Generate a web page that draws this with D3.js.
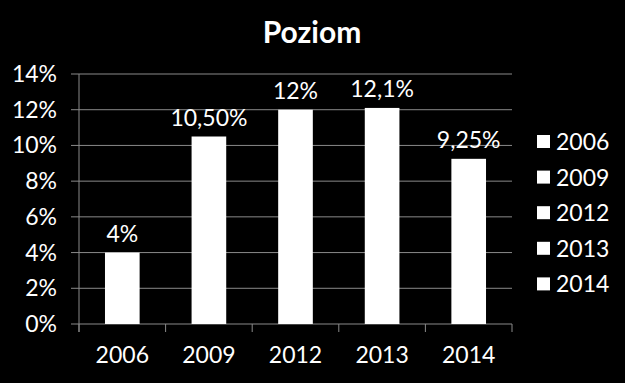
<html>
<head>
  <meta charset="utf-8">
  <title>Poziom</title>
  <script src="https://cdnjs.cloudflare.com/ajax/libs/d3/7.8.5/d3.min.js"></script>
  <style>
    body { margin: 0; background: #000; }
    text { font-family: Lato, "Open Sans", sans-serif; fill: #fff; }
  </style>
</head>
<body>
  <svg></svg>
  <script>
var years = ["2006", "2009", "2012", "2013", "2014"];
var values = [4, 10.5, 12, 12.1, 9.25];
var valueLabels = ["4%", "10,50%", "12%", "12,1%", "9,25%"];
var yTicks = [0, 2, 4, 6, 8, 10, 12, 14];

var w = 625, h = 383;
var svg = d3.select("svg").attr("width", w).attr("height", h);
svg.append("rect").attr("width", w).attr("height", h).attr("fill", "#000");

var margin = {left: 79, right: 113, top: 74, bottom: 59};

var x = d3.scaleBand()
  .domain(years)
  .range([margin.left, w - margin.right])
  .paddingInner(0.6)
  .paddingOuter(0.3);

var y = d3.scaleLinear()
  .domain([0, 14])
  .range([h - margin.bottom, margin.top]);

// gridlines
svg.selectAll("line.grid")
  .data(yTicks)
  .enter()
  .append("line")
  .attr("class", "grid")
  .attr("x1", margin.left - 8)
  .attr("x2", w - margin.right)
  .attr("y1", function(d) { return y(d); })
  .attr("y2", function(d) { return y(d); })
  .attr("stroke", "#8a8a8a")
  .attr("stroke-width", 1);

// y axis line
svg.append("line")
  .attr("x1", margin.left).attr("x2", margin.left)
  .attr("y1", margin.top).attr("y2", h - margin.bottom + 8)
  .attr("stroke", "#8a8a8a");

// x axis category ticks
var edges = d3.range(years.length + 1).map(function(i) {
  return margin.left + i * (w - margin.right - margin.left) / years.length;
});
svg.selectAll("line.xtick")
  .data(edges)
  .enter()
  .append("line")
  .attr("class", "xtick")
  .attr("x1", function(d) { return d; })
  .attr("x2", function(d) { return d; })
  .attr("y1", y(0))
  .attr("y2", y(0) + 8)
  .attr("stroke", "#8a8a8a");

// y labels
svg.selectAll("text.ylab")
  .data(yTicks)
  .enter()
  .append("text")
  .attr("class", "ylab")
  .attr("x", 57)
  .attr("y", function(d) { return y(d) + 8; })
  .attr("text-anchor", "end")
  .attr("font-size", 23)
  .text(function(d) { return d + "%"; });

// bars
svg.selectAll("rect.bar")
  .data(values)
  .enter()
  .append("rect")
  .attr("class", "bar")
  .attr("x", function(d, i) { return x(years[i]); })
  .attr("y", function(d) { return y(d); })
  .attr("width", x.bandwidth())
  .attr("height", function(d) { return y(0) - y(d); })
  .attr("fill", "#fff");

// value labels
svg.selectAll("text.val")
  .data(values)
  .enter()
  .append("text")
  .attr("class", "val")
  .attr("x", function(d, i) { return x(years[i]) + x.bandwidth() / 2; })
  .attr("y", function(d) { return y(d) - 11; })
  .attr("text-anchor", "middle")
  .attr("font-size", 23)
  .text(function(d, i) { return valueLabels[i]; });

// x labels
svg.selectAll("text.xlab")
  .data(years)
  .enter()
  .append("text")
  .attr("class", "xlab")
  .attr("x", function(d) { return x(d) + x.bandwidth() / 2; })
  .attr("y", 363)
  .attr("text-anchor", "middle")
  .attr("font-size", 23)
  .text(function(d) { return d; });

// title
svg.append("text")
  .attr("x", 312)
  .attr("y", 43)
  .attr("text-anchor", "middle")
  .attr("font-size", 30)
  .attr("font-weight", "bold")
  .text("Poziom");

// legend
var leg = svg.selectAll("g.leg")
  .data(years)
  .enter()
  .append("g")
  .attr("class", "leg")
  .attr("transform", function(d, i) { return "translate(537," + (142 + i * 35.6) + ")"; });
leg.append("rect")
  .attr("x", 0).attr("y", -7)
  .attr("width", 13).attr("height", 13)
  .attr("fill", "#fff");
leg.append("text")
  .attr("x", 19)
  .attr("y", 8)
  .attr("font-size", 23)
  .text(function(d) { return d; });
  </script>
</body>
</html>
